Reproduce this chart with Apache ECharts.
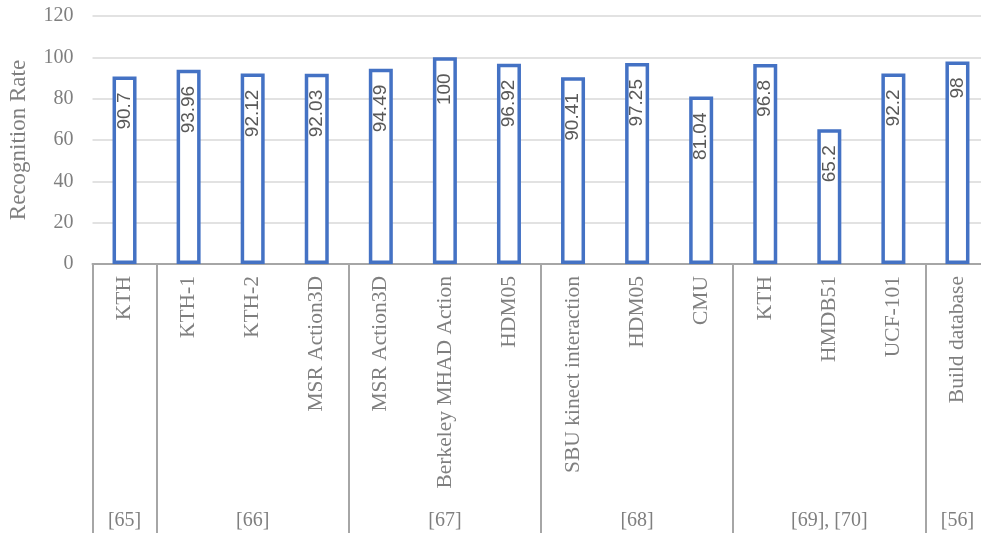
<!DOCTYPE html>
<html>
<head>
<meta charset="utf-8">
<script src="https://cdn.jsdelivr.net/npm/echarts@6/dist/echarts.min.js"></script>
<style>html,body{margin:0;padding:0;background:#fff}#c{width:981px;height:533px}</style>
</head>
<body>
<div id="c"></div>
<script>
var categories = ['KTH','KTH-1','KTH-2','MSR Action3D','MSR Action3D','Berkeley MHAD Action','HDM05','SBU kinect interaction','HDM05','CMU','KTH','HMDB51','UCF-101','Build database'];
var values = [90.7,93.96,92.12,92.03,94.49,100,96.92,90.41,97.25,81.04,96.8,65.2,92.2,98];
var groupLabels = ['[65]','','[66]','','','[67]','','','[68]','','','[69], [70]','','[56]'];
var groupStarts = [0,1,4,7,10,13];
var yTicks = {min:0,max:120,interval:20};

var chart = echarts.init(document.getElementById('c'));
var serif = 'Liberation Serif';
chart.setOption({
  animation:false,
  grid:{left:92.5,top:16,width:897,height:248,containLabel:false,outerBoundsMode:'none'},
  xAxis:[{
    type:'category', data:categories, position:'bottom',
    axisLine:{show:true,lineStyle:{color:'#a6a6a6',width:2}},
    axisTick:{show:false},
    axisLabel:{interval:0,rotate:90,margin:12,fontFamily:serif,fontSize:21.5,color:'#7f7f7f',hideOverlap:false}
  },{
    type:'category', data:groupLabels, position:'bottom', offset:0,
    axisLine:{show:false},
    axisTick:{show:true,length:270,interval:function(i){return groupStarts.indexOf(i)>=0;},lineStyle:{color:'#a6a6a6',width:2}},
    axisLabel:{interval:0,margin:247,fontFamily:serif,fontSize:20,color:'#7f7f7f',hideOverlap:false}
  }],
  yAxis:{
    type:'value', min:yTicks.min, max:yTicks.max, interval:yTicks.interval,
    name:'Recognition Rate', nameLocation:'middle', nameGap:62,
    nameTextStyle:{fontFamily:serif,fontSize:23,color:'#7f7f7f'},
    axisLine:{show:false}, axisTick:{show:false},
    axisLabel:{margin:19,fontFamily:serif,fontSize:20,color:'#7f7f7f'},
    splitLine:{lineStyle:{color:'#d9d9d9',width:1.5}}
  },
  series:[{
    type:'bar', data:values, xAxisIndex:0, barWidth:24,
    itemStyle:{color:'#ffffff',borderColor:'#4472C4',borderWidth:3.5},
    label:{show:true,position:'insideTop',distance:16,rotate:90,align:'right',verticalAlign:'middle',
      fontFamily:'Liberation Sans',fontSize:19,color:'#595959'}
  }]
});
</script>
</body>
</html>
